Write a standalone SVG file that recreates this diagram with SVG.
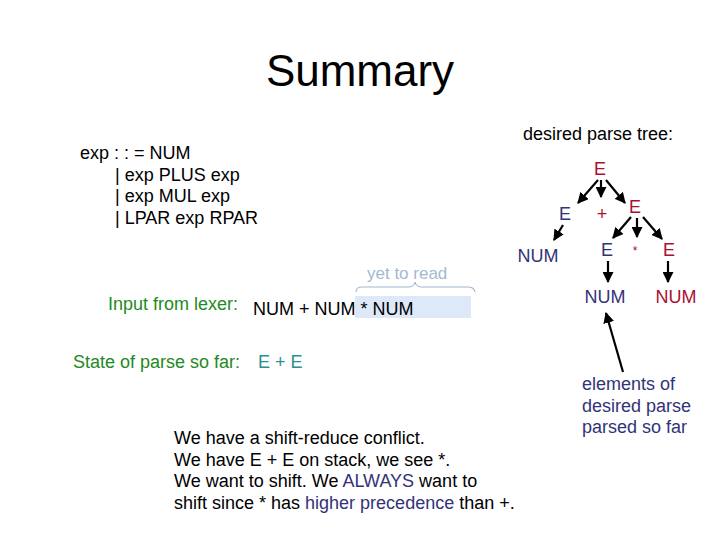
<svg xmlns="http://www.w3.org/2000/svg" width="720" height="540" viewBox="0 0 720 540">
<style>
text{font-family:"Liberation Sans",Arial,sans-serif;}
.t{font-size:18px;fill:#000;}
.g{font-size:18px;fill:#228a22;}
.b{fill:#333377;}
.r{fill:#aa1030;}
.n{font-size:18px;}
.e{stroke:#000;stroke-width:2.2;fill:none;marker-end:url(#ah);}
</style>
<defs>
<marker id="ah" viewBox="0 0 10 10" refX="9" refY="5" markerWidth="5" markerHeight="5" orient="auto" markerUnits="strokeWidth">
<path d="M0,0L10,5L0,10z" fill="#000"/>
</marker>
</defs>
<rect width="720" height="540" fill="#fff"/>
<g id="title"><text x="360" y="86" text-anchor="middle" style="font-size:44px">Summary</text></g>
<g id="grammar" class="t">
<text x="80" y="159" class="t">exp : : = NUM</text>
<text x="115" y="181" class="t">| exp PLUS exp</text>
<text x="115" y="202" class="t">| exp MUL exp</text>
<text x="115" y="224" class="t">| LPAR exp RPAR</text>
</g>
<g id="tree-label"><text x="523" y="140" class="t">desired parse tree:</text></g>
<g id="input">
<text x="367" y="279" style="font-size:17px;fill:#a4b8d2">yet to read</text>
<path d="M356,292 Q356,287 362,287 L408,287 Q414,287 415,282 Q416,287 422,287 L468,287 Q474,287 475,292" fill="none" stroke="#a4b8d2" stroke-width="1.2"/>
<rect x="355" y="296" width="116" height="22" fill="#dde9f8"/>
<text x="108" y="310" class="g">Input from lexer:</text>
<text x="253" y="315" class="t">NUM + NUM * NUM</text>
</g>
<g id="state">
<text x="73" y="368" class="g">State of parse so far:</text>
<text x="258" y="368" style="font-size:18px;fill:#2a9090">E + E</text>
</g>
<g id="explain">
<text x="174" y="444" class="t">We have a shift-reduce conflict.</text>
<text x="174" y="466" class="t">We have E + E on stack, we see *.</text>
<text x="174" y="487" class="t">We want to shift. We <tspan class="b">ALWAYS</tspan> want to</text>
<text x="174" y="509" class="t">shift since * has <tspan class="b">higher precedence</tspan> than +.</text>
</g>
<g id="note">
<text x="582" y="390" class="b" style="font-size:18px">elements of</text>
<text x="582" y="412" class="b" style="font-size:18px">desired parse</text>
<text x="582" y="433" class="b" style="font-size:18px">parsed so far</text>
</g>
<g id="nodes" class="n">
<g id="n-root"><text x="600" y="175" text-anchor="middle" class="r n">E</text></g>
<g id="n-e1"><text x="565" y="220" text-anchor="middle" class="b n">E</text></g>
<g id="n-plus"><text x="602" y="220" text-anchor="middle" class="r n">+</text></g>
<g id="n-e2"><text x="635" y="213" text-anchor="middle" class="r n">E</text></g>
<g id="n-num1"><text x="538" y="262" text-anchor="middle" class="b n">NUM</text></g>
<g id="n-e3"><text x="607" y="256" text-anchor="middle" class="b n">E</text></g>
<g id="n-star"><text x="635" y="255" text-anchor="middle" class="r" style="font-size:12px">*</text></g>
<g id="n-e4"><text x="669" y="256" text-anchor="middle" class="r n">E</text></g>
<g id="n-num2"><text x="605" y="303" text-anchor="middle" class="b n">NUM</text></g>
<g id="n-num3"><text x="676" y="303" text-anchor="middle" class="r n">NUM</text></g>
</g>
<g id="connectors">
<line x1="598" y1="180" x2="578" y2="203" class="e"/>
<line x1="601" y1="180" x2="601" y2="197" class="e"/>
<line x1="606" y1="180" x2="625" y2="203" class="e"/>
<line x1="563" y1="225" x2="554" y2="240" class="e"/>
<line x1="631" y1="217" x2="613" y2="238" class="e"/>
<line x1="637" y1="218" x2="637" y2="237" class="e"/>
<line x1="643" y1="217" x2="662" y2="239" class="e"/>
<line x1="608" y1="261" x2="608" y2="282" class="e"/>
<line x1="668" y1="261" x2="668" y2="282" class="e"/>
<line x1="623" y1="372" x2="606" y2="313" class="e"/>
</g>
</svg>
